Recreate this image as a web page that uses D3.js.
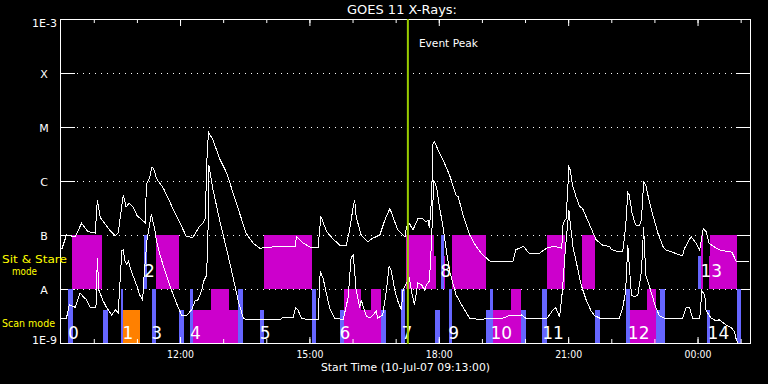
<!DOCTYPE html>
<html>
<head>
<meta charset="utf-8">
<title>GOES 11 X-Rays</title>
<script src="https://cdn.jsdelivr.net/npm/d3@7"></script>
<style>
  body { margin: 0; padding: 0; background: #000; }
  svg { display: block; }
  text { font-family: "DejaVu Sans", sans-serif; fill: #fff; }
</style>
</head>
<body>
<div id="chart"></div>
<script>
// GOES 11 long channel (1-8 A), W/m^2, 10-11 Jul 2007
var longChannel = [
  ["09:13",5.3e-8],["09:16",5.7e-8],["09:22",1.0e-7],["09:34",9.2e-8],["09:43",1.65e-7],["09:52",1.15e-7],
  ["10:02",1.09e-7],["10:05",4.5e-7],["10:09",2.1e-7],["10:22",1.24e-7],["10:30",9.6e-8],["10:34",1.09e-7],
  ["10:41",5.5e-7],["10:45",3.3e-7],["10:49",3.9e-7],["10:55",3.3e-7],["11:00",2.3e-7],["11:10",1.76e-7],
  ["11:12",1.67e-7],["11:13",8.4e-7],["11:18",1.2e-6],["11:21",1.84e-6],["11:24",1.6e-6],["11:27",1.12e-6],
  ["11:37",7.3e-7],["11:50",3.1e-7],["12:00",1.65e-7],["12:09",9.3e-8],["12:18",9.1e-8],["12:27",1.43e-7],
  ["12:32",1.65e-7],["12:35",2.0e-7],["12:38",4.3e-6],["12:40",7.8e-6],["12:46",5.7e-6],["12:55",2.6e-6],
  ["13:05",1.4e-6],["13:14",5.9e-7],["13:23",2.5e-7],["13:32",1.07e-7],["13:42",7.0e-8],["13:51",5.7e-8],
  ["14:14",6.1e-8],["14:40",6.1e-8],["14:42",9.3e-8],["14:51",7.1e-8],["15:03",5.8e-8],["15:12",5.8e-8],
  ["15:16",2.2e-7],["15:24",1.15e-7],["15:32",8.7e-8],["15:42",6.5e-8],["15:51",6.3e-8],["15:55",1.07e-7],
  ["16:01",3.3e-7],["16:03",4.5e-7],["16:05",2.2e-7],["16:12",1.0e-7],["16:21",7.5e-8],["16:28",8.7e-8],
  ["16:38",1.0e-7],["16:45",1.9e-7],["16:52",3.1e-7],["16:56",2.2e-7],["17:03",1.24e-7],["17:13",9.3e-8],
  ["17:15",1.43e-7],["17:19",1.65e-7],["17:24",1.24e-7],["17:31",2.0e-7],["17:38",2.0e-7],["17:42",1.76e-7],
  ["17:45",1.9e-7],["17:47",1.33e-7],["17:50",4.8e-7],["17:52",5.0e-6],["17:54",5.35e-6],["17:59",3.75e-6],
  ["18:06",2.45e-6],["18:15",1.29e-6],["18:24",5.5e-7],["18:27",5.1e-7],["18:34",2.3e-7],["18:43",1.0e-7],
  ["18:52",6.1e-8],["19:01",4.3e-8],["19:11",3.3e-8],["19:29",3.2e-8],["19:43",3.2e-8],["19:47",5.3e-8],
  ["19:58",6.2e-8],["20:06",4.5e-8],["20:20",4.6e-8],["20:30",5.7e-8],["20:41",6.2e-8],["20:51",5.7e-8],
  ["20:53",1.65e-7],["20:57",2.0e-7],["20:59",5.5e-7],["21:01",1.8e-6],["21:03",1.6e-6],["21:06",8.4e-7],
  ["21:11",5.1e-7],["21:16",3.4e-7],["21:20",3.1e-7],["21:27",1.9e-7],["21:34",1.15e-7],["21:39",8.1e-8],
  ["21:48",6.5e-8],["21:58",6.1e-8],["22:00",5.4e-8],["22:07",5.0e-8],["22:16",5.0e-8],["22:20",1.43e-7],
  ["22:23",6.1e-7],["22:25",5.5e-7],["22:29",2.5e-7],["22:34",1.53e-7],["22:39",1.5e-7],["22:42",1.9e-7],
  ["22:45",9.6e-7],["22:48",8.4e-7],["22:53",4.1e-7],["22:58",2.3e-7],["23:05",1.07e-7],["23:12",6.1e-8],
  ["23:16",5.3e-8],["23:39",4.1e-8],["23:42",5.7e-8],["23:51",9.3e-8],["23:58",7.0e-8],["00:03",5.3e-8],
  ["00:08",1.33e-7],["00:12",1.15e-7],["00:16",7.0e-8],["00:30",5.3e-8],["00:48",4.8e-8],["00:54",3.2e-8],
  ["01:12",3.2e-8]
];

// short channel (0.5-4 A)
var shortChannel = [
  ["09:13",2.9e-9],["09:22",2.9e-9],["09:26",5.1e-9],["09:34",4.6e-9],["09:41",8.4e-9],["09:45",7.3e-9],
  ["09:50",6.3e-9],["09:55",4.6e-9],["10:03",4.6e-9],["10:05",3.8e-8],["10:07",9.6e-9],["10:13",6.0e-9],
  ["10:18",4.5e-9],["10:25",3.3e-9],["10:30",4.1e-9],["10:34",3.6e-9],["10:39",5.1e-8],["10:41",5.3e-8],
  ["10:43",3.4e-8],["10:46",2.8e-8],["10:48",3.3e-8],["10:53",2.0e-8],["11:00",1.14e-8],["11:04",7.7e-9],
  ["11:08",6.3e-9],["11:10",1.8e-8],["11:14",8.1e-8],["11:20",2.45e-7],["11:25",1.24e-7],["11:27",8.1e-8],
  ["11:32",4.3e-8],["11:41",1.8e-8],["11:48",9.6e-9],["11:55",5.5e-9],["12:02",3.3e-9],["12:09",3.2e-9],
  ["12:16",4.1e-9],["12:21",6.0e-9],["12:25",6.3e-9],["12:30",9.2e-9],["12:33",1.4e-8],["12:37",1.8e-8],
  ["12:39",1.35e-7],["12:40",2.0e-6],["12:46",6.8e-7],["12:55",1.9e-7],["13:05",5.3e-8],["13:14",1.6e-8],
  ["13:21",6.0e-9],["13:28",2.9e-9],["13:32",2.7e-9],["13:51",2.7e-9],["14:19",2.7e-9],["14:23",3.0e-9],
  ["14:37",2.9e-9],["14:41",4.5e-9],["14:44",4.1e-9],["14:49",2.9e-9],["14:58",2.7e-9],["15:12",2.7e-9],
  ["15:15",2.1e-8],["15:19",1.6e-8],["15:24",7.8e-9],["15:28",4.5e-9],["15:35",2.9e-9],["15:47",2.7e-9],
  ["15:54",7.1e-9],["15:58",3.8e-8],["16:01",4.3e-8],["16:05",9.6e-9],["16:10",4.5e-9],["16:12",6.3e-9],
  ["16:19",3.2e-9],["16:24",2.9e-9],["16:28",3.2e-9],["16:33",3.9e-9],["16:35",2.9e-9],["16:42",3.3e-9],
  ["16:47",9.2e-9],["16:51",2.7e-8],["16:54",2.15e-8],["16:59",9.2e-9],["17:03",6.0e-9],["17:08",4.1e-9],
  ["17:10",9.2e-9],["17:15",1.3e-8],["17:19",1.6e-8],["17:22",9.2e-9],["17:26",5.1e-9],["17:31",1.3e-8],
  ["17:36",1.2e-8],["17:40",9.6e-9],["17:43",1.2e-8],["17:47",1.4e-8],["17:50",8.1e-8],["17:53",1.04e-6],
  ["17:57",7.7e-7],["18:01",3.3e-7],["18:06",1.4e-7],["18:10",5.7e-8],["18:15",2.15e-8],["18:24",7.8e-9],
  ["18:34",4.5e-9],["18:43",2.9e-9],["18:57",2.7e-9],["19:11",2.9e-9],["19:29",2.9e-9],["19:38",3.2e-9],
  ["19:48",3.2e-9],["19:55",3.3e-9],["20:02",2.8e-9],["20:30",2.8e-9],["20:39",4.1e-9],["20:43",4.5e-9],
  ["20:48",3.0e-9],["20:52",9.2e-9],["20:56",5.3e-8],["21:01",2.9e-7],["21:04",1.24e-7],["21:07",5.7e-8],
  ["21:11",3.3e-8],["21:18",1.2e-8],["21:25",6.3e-9],["21:32",3.9e-9],["21:37",3.2e-9],["21:46",2.8e-9],
  ["22:11",2.8e-9],["22:16",4.5e-9],["22:20",9.2e-9],["22:23",6.5e-8],["22:28",7.8e-9],["22:32",7.1e-9],
  ["22:37",7.8e-9],["22:42",2.15e-8],["22:45",1.4e-7],["22:48",1.8e-8],["22:55",9.2e-9],["23:02",4.5e-9],
  ["23:07",3.2e-9],["23:16",2.8e-9],["23:39",2.8e-9],["23:44",4.5e-9],["23:49",4.5e-9],["23:53",2.9e-9],
  ["00:03",2.8e-9],["00:06",9.2e-9],["00:10",7.8e-9],["00:12",3.9e-9],["00:19",2.9e-9],["00:26",2.55e-9],
  ["00:30",2.7e-9],["00:40",2.15e-9],["00:47",1.9e-9],["00:51",1.67e-9],["00:54",1.14e-9],["00:56",1.0e-9]
];

// observation blocks: [start, end, kind, tier]   kind m=magenta b=blue o=orange, tier hi=full lo=partial
var stareBlocks = [
  ["09:30","10:12","m","hi"],["11:10","11:14","b","hi"],["11:26","11:59","m","hi"],
  ["13:57","15:03","m","hi"],["17:15","17:53","m","hi"],["17:53","17:56","m","lo"],
  ["18:07","18:09","m","lo"],["18:03","18:07","b","hi"],["18:18","19:06","m","hi"],
  ["20:30","20:55","m","hi"],["21:19","21:38","m","hi"],["00:01","00:05","b","lo"],
  ["00:05","00:07","m","hi"],["00:16","00:17","m","lo"],["00:17","00:55","m","hi"]
];
var scanBlocks = [
  ["09:24","09:31","b","hi"],["10:13","10:20","b","lo"],["10:38","10:41","b","hi"],
  ["10:41","11:04","o","lo"],["11:21","11:26","b","hi"],["11:59","12:05","b","lo"],
  ["12:14","12:18","b","hi"],["12:18","13:20","m","lo"],["12:43","13:08","m","hi"],
  ["13:20","13:27","b","hi"],["13:51","13:57","b","lo"],["15:03","15:09","b","hi"],
  ["15:42","15:48","b","lo"],["15:48","16:40","m","lo"],["15:48","16:12","m","hi"],
  ["16:26","16:40","m","hi"],["16:40","16:46","b","lo"],["17:08","17:13","b","hi"],
  ["17:55","18:01","b","lo"],["18:14","18:19","b","hi"],["19:05","19:16","b","lo"],
  ["19:11","19:16","b","hi"],["19:16","19:55","m","lo"],["19:40","19:55","m","hi"],
  ["19:55","20:01","b","lo"],["20:24","20:30","b","hi"],["21:37","21:44","b","lo"],
  ["22:20","22:26","b","hi"],["22:26","23:02","m","lo"],["22:49","23:02","m","hi"],
  ["23:02","23:08","b","lo"],["23:08","23:15","b","hi"],["00:13","00:17","b","lo"],
  ["00:55","01:01","b","hi"]
];

// observation numbers: [label, time, band]
var obsLabels = [
  ["0","09:24","scan"],["1","10:40","scan"],["2","11:10","stare"],["3","11:20","scan"],
  ["4","12:14","scan"],["5","13:51","scan"],["6","15:42","scan"],["7","17:08","scan"],
  ["8","18:02","stare"],["9","18:13","scan"],["10","19:12","scan"],["11","20:24","scan"],
  ["12","22:23","scan"],["13","00:04","stare"],["14","00:14","scan"]
];

var yTickValues = [1e-9, 1e-8, 1e-7, 1e-6, 1e-5, 1e-4, 1e-3];
var yTickNames  = ["1E-9", "A", "B", "C", "M", "X", "1E-3"];
var eventPeak = "17:17";
var startTime = "09:13", endTime = "01:13";

function toDate(s) {
  var p = s.split(":"), h = +p[0], m = +p[1];
  var day = h < 9 ? 11 : 10;
  return new Date(Date.UTC(2007, 6, day, h, m));
}

var colors = { m: "#cc00cc", b: "#6666ff", o: "#ff8000" };
var plotL = 60, plotR = 750, plotT = 19, plotB = 343;

var svg = d3.select("#chart").append("svg")
  .attr("width", 768).attr("height", 384)
  .style("background", "#000");

var x = d3.scaleUtc().domain([toDate(startTime), toDate(endTime)]).range([plotL, plotR]);
var y = d3.scaleLog().domain([1e-9, 1e-3]).range([plotB, plotT]);

// grid: dotted inside, solid stubs on both sides
var grid = svg.append("g").attr("shape-rendering", "crispEdges");
yTickValues.slice(1, -1).forEach(function (v) {
  grid.append("line").attr("x1", plotL + 17).attr("x2", plotR - 14)
    .attr("y1", y(v) + 0.5).attr("y2", y(v) + 0.5)
    .attr("stroke", "#fff").attr("stroke-dasharray", "1,5");
});
yTickValues.forEach(function (v) {
  grid.append("line").attr("x1", plotL).attr("x2", plotL + 15)
    .attr("y1", y(v) + 0.5).attr("y2", y(v) + 0.5).attr("stroke", "#fff");
  grid.append("line").attr("x1", plotR - 14).attr("x2", plotR)
    .attr("y1", y(v) + 0.5).attr("y2", y(v) + 0.5).attr("stroke", "#fff");
});

// observation blocks
function drawBlocks(data, hiVal, loVal) {
  var yTop = y(hiVal), yBot = y(loVal);
  var yMid = yTop + 0.39 * (yBot - yTop);
  svg.append("g").attr("shape-rendering", "crispEdges")
    .selectAll("rect").data(data).enter().append("rect")
    .attr("x", function (d) { return x(toDate(d[0])); })
    .attr("width", function (d) { return x(toDate(d[1])) - x(toDate(d[0])); })
    .attr("y", function (d) { return d[3] == "hi" ? yTop : yMid; })
    .attr("height", function (d) { return d[3] == "hi" ? yBot - yTop : yBot - yMid; })
    .attr("fill", function (d) { return colors[d[2]]; });
}
drawBlocks(stareBlocks, 1e-7, 1e-8);
drawBlocks(scanBlocks, 1e-8, 1e-9);

// flux curves
var line = d3.line()
  .x(function (d) { return x(toDate(d[0])); })
  .y(function (d) { return y(d[1]); });
[longChannel, shortChannel].forEach(function (data) {
  svg.append("path").datum(data)
    .attr("fill", "none").attr("stroke", "#fff").attr("stroke-width", 1)
    .attr("shape-rendering", "crispEdges")
    .attr("d", line);
});

// observation numbers
svg.append("g").selectAll("text").data(obsLabels).enter().append("text")
  .attr("x", function (d) { return x(toDate(d[1])); })
  .attr("y", function (d) { return d[2] == "scan" ? y(1e-9) - 4 : y(1e-8) - 12; })
  .attr("font-size", 17)
  .text(function (d) { return d[0]; });

// frame
svg.append("rect").attr("x", plotL + 0.5).attr("y", plotT + 0.5)
  .attr("width", plotR - plotL).attr("height", plotB - plotT)
  .attr("fill", "none").attr("stroke", "#fff").attr("shape-rendering", "crispEdges");

// time axes, minor hourly and major every 3 hours
function timeAxis(axisFn, ypos, every, size, labels) {
  var ax = axisFn(x).ticks(d3.utcHour.every(every)).tickSizeInner(size).tickSizeOuter(0);
  if (labels) ax.tickFormat(d3.utcFormat("%H:%M")).tickPadding(8);
  else ax.tickFormat("");
  var g = svg.append("g").attr("transform", "translate(0," + ypos + ")").call(ax);
  g.select(".domain").remove();
  g.selectAll("line").attr("stroke", "#fff");
  g.selectAll("text").attr("fill", "#fff").attr("font-size", 10.5)
    .attr("font-family", "DejaVu Sans").attr("textLength", 27).attr("lengthAdjust", "spacingAndGlyphs");
}
timeAxis(d3.axisTop, plotT + 1, 1, -3, false);
timeAxis(d3.axisTop, plotT + 1, 3, -6, false);
timeAxis(d3.axisBottom, plotB, 1, -4, false);
timeAxis(d3.axisBottom, plotB, 3, -6, true);

// y labels
svg.append("g").selectAll("text").data(yTickValues).enter().append("text")
  .attr("x", function (d, i) { return yTickNames[i].length > 1 ? 57 : 44; })
  .attr("y", function (d, i) { return y(d) + (i == 0 ? 1 : i == yTickValues.length - 1 ? 8 : 4.5); })
  .attr("text-anchor", function (d, i) { return yTickNames[i].length > 1 ? "end" : "middle"; })
  .attr("font-size", 11)
  .text(function (d, i) { return yTickNames[i]; });

// event peak
var ex = x(toDate(eventPeak));
svg.append("line").attr("x1", ex).attr("x2", ex).attr("y1", plotT).attr("y2", plotB + 1)
  .attr("stroke", "#99cc00").attr("stroke-width", 2);
svg.append("text").attr("x", ex + 11).attr("y", plotT + 28).attr("font-size", 11)
  .attr("textLength", 59).attr("lengthAdjust", "spacingAndGlyphs").text("Event Peak");

// titles
svg.append("text").attr("x", 347).attr("y", 14).attr("font-size", 13)
  .attr("textLength", 110).attr("lengthAdjust", "spacingAndGlyphs").text("GOES 11 X-Rays:");
svg.append("text").attr("x", 321).attr("y", 371).attr("font-size", 11)
  .attr("textLength", 169).attr("lengthAdjust", "spacingAndGlyphs")
  .text("Start Time (10-Jul-07 09:13:00)");

// mode labels
var modeText = svg.append("g").attr("font-size", 11);
modeText.append("text").attr("x", 2).attr("y", 263).attr("textLength", 65)
  .attr("lengthAdjust", "spacingAndGlyphs").style("fill", "#ffff00").text("Sit & Stare");
modeText.append("text").attr("x", 12).attr("y", 275).attr("textLength", 25)
  .attr("lengthAdjust", "spacingAndGlyphs").style("fill", "#ffff00").text("mode");
modeText.append("text").attr("x", 2).attr("y", 327).attr("textLength", 53)
  .attr("lengthAdjust", "spacingAndGlyphs").style("fill", "#ffff00").text("Scan mode");
</script>
</body>
</html>
